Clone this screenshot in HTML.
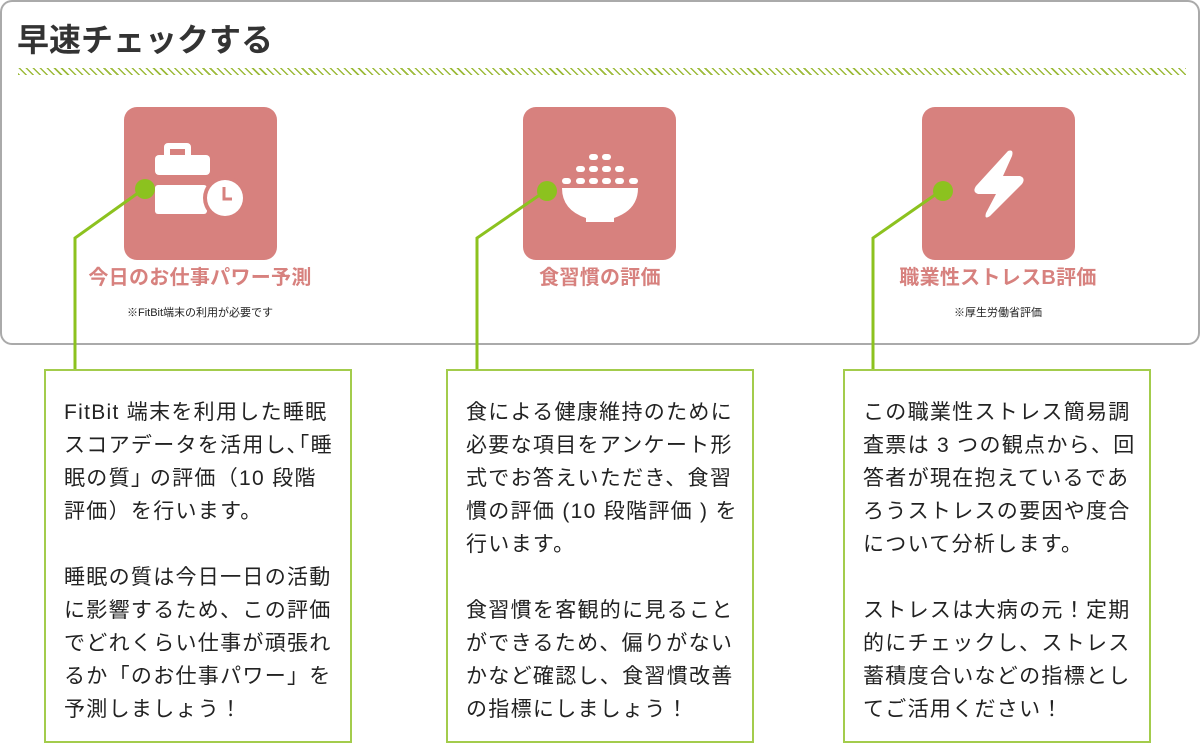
<!DOCTYPE html>
<html><head><meta charset="utf-8"><style>
*{margin:0;padding:0;box-sizing:border-box}
body{width:1200px;height:744px;background:#fff;position:relative;overflow:hidden;font-family:"Liberation Sans","Noto Sans CJK JP",sans-serif}
.card{position:absolute;left:0;top:0;width:1200px;height:345px;border:2px solid #aaa;border-top:none;border-radius:0 0 12px 12px}
.cardtop{position:absolute;left:0;top:0;width:1200px;height:20px;border:2px solid #aaa;border-bottom:none;border-radius:12px 12px 0 0}
.title{position:absolute;left:17px;top:19px;font-size:32px;font-weight:bold;color:#333;line-height:42px}
.stripe{position:absolute;left:18px;top:68px;width:1168px;height:7px;background:repeating-linear-gradient(45deg,#9dbb3b 0 1.5px,transparent 1.5px 5px)}
.icon{position:absolute;top:107px;width:153px;height:153px;background:#d7817e;border-radius:13px}
.lbl{position:absolute;top:263px;width:320px;text-align:center;font-size:20px;font-weight:bold;color:#d7817e;line-height:30px;letter-spacing:0.3px}
.note{position:absolute;top:305px;width:320px;text-align:center;font-size:11px;color:#222;line-height:16px}
.box{position:absolute;top:369px;width:308px;height:374px;border:2px solid #a3cc4c;background:#fff}
.t{position:absolute;font-size:21px;letter-spacing:1.3px;color:#222;line-height:33px;white-space:nowrap}
</style></head><body>
<div class="cardtop"></div><div class="card" style="top:18px;height:327px"></div>
<div class="title">早速チェックする</div>
<div class="stripe"></div>

<div class="icon" style="left:124px"></div>
<div class="icon" style="left:523px"></div>
<div class="icon" style="left:922px"></div>

<svg width="1200" height="744" style="position:absolute;left:0;top:0">
<g fill="#fff">
<rect x="155" y="155" width="55" height="20" rx="4"/>
<path d="M164 155 v-8 a4 4 0 0 1 4-4 h19 a4 4 0 0 1 4 4 v8 h-6 v-6 h-15 v6z"/>
<rect x="155" y="185" width="52" height="29" rx="3"/>
<circle cx="225" cy="198" r="22" fill="#d7817e"/>
<circle cx="225" cy="198" r="18"/>
<path d="M224 187 v12 h8" stroke="#d7817e" stroke-width="3" fill="none"/>
</g>
<g fill="#fff">
<rect x="589" y="154" width="9" height="6" rx="3"/><rect x="602" y="154" width="9" height="6" rx="3"/>
<rect x="576" y="166" width="9" height="6" rx="3"/><rect x="589" y="166" width="9" height="6" rx="3"/><rect x="602" y="166" width="9" height="6" rx="3"/><rect x="615" y="166" width="9" height="6" rx="3"/>
<rect x="562" y="178" width="9" height="6" rx="3"/><rect x="576" y="178" width="9" height="6" rx="3"/><rect x="589" y="178" width="9" height="6" rx="3"/><rect x="602" y="178" width="9" height="6" rx="3"/><rect x="615" y="178" width="9" height="6" rx="3"/><rect x="629" y="178" width="9" height="6" rx="3"/>
<path d="M562 188 h76 q0 22 -24 30 v4 h-28 v-4 q-24 -8 -24 -30z"/>
</g>
<path d="M1008 151 Q1014 149 1012 156 L1003 176 H1020 Q1026 178 1022 184 L990 216 Q984 220 986 213 L996 194 H978 Q972 192 976 186z" fill="#fff"/>
<g stroke="#8cc21f" stroke-width="3" fill="none">
<polyline points="145,188 75,238 75,370"/>
<polyline points="547,190 477,238 477,370"/>
<polyline points="942,190 873,238 873,370"/>
</g>
<g fill="#8cc21f"><circle cx="145" cy="189" r="10"/><circle cx="547" cy="191" r="10"/><circle cx="943" cy="191" r="10"/></g>
</svg>

<div class="lbl" style="left:40px">今日のお仕事パワー予測</div>
<div class="lbl" style="left:440px">食習慣の評価</div>
<div class="lbl" style="left:838px">職業性ストレスB評価</div>
<div class="note" style="left:40px">※FitBit端末の利用が必要です</div>
<div class="note" style="left:838px">※厚生労働省評価</div>

<div class="box" style="left:44px"></div>
<div class="box" style="left:446px"></div>
<div class="box" style="left:843px"></div>

<div class="t" style="left:64px;top:396px">FitBit 端末を利用した睡眠<br>スコアデータを活用し､｢睡<br>眠の質｣ の評価（10 段階<br>評価）を行います。<br><br>睡眠の質は今日一日の活動<br>に影響するため、この評価<br>でどれくらい仕事が頑張れ<br>るか「のお仕事パワー」を<br>予測しましょう！</div>
<div class="t" style="left:466px;top:396px">食による健康維持のために<br>必要な項目をアンケート形<br>式でお答えいただき、食習<br>慣の評価 (10 段階評価 ) を<br>行います。<br><br>食習慣を客観的に見ること<br>ができるため、偏りがない<br>かなど確認し、食習慣改善<br>の指標にしましょう！</div>
<div class="t" style="left:863px;top:396px">この職業性ストレス簡易調<br>査票は 3 つの観点から、回<br>答者が現在抱えているであ<br>ろうストレスの要因や度合<br>について分析します。<br><br>ストレスは大病の元！定期<br>的にチェックし、ストレス<br>蓄積度合いなどの指標とし<br>てご活用ください！</div>
</body></html>
